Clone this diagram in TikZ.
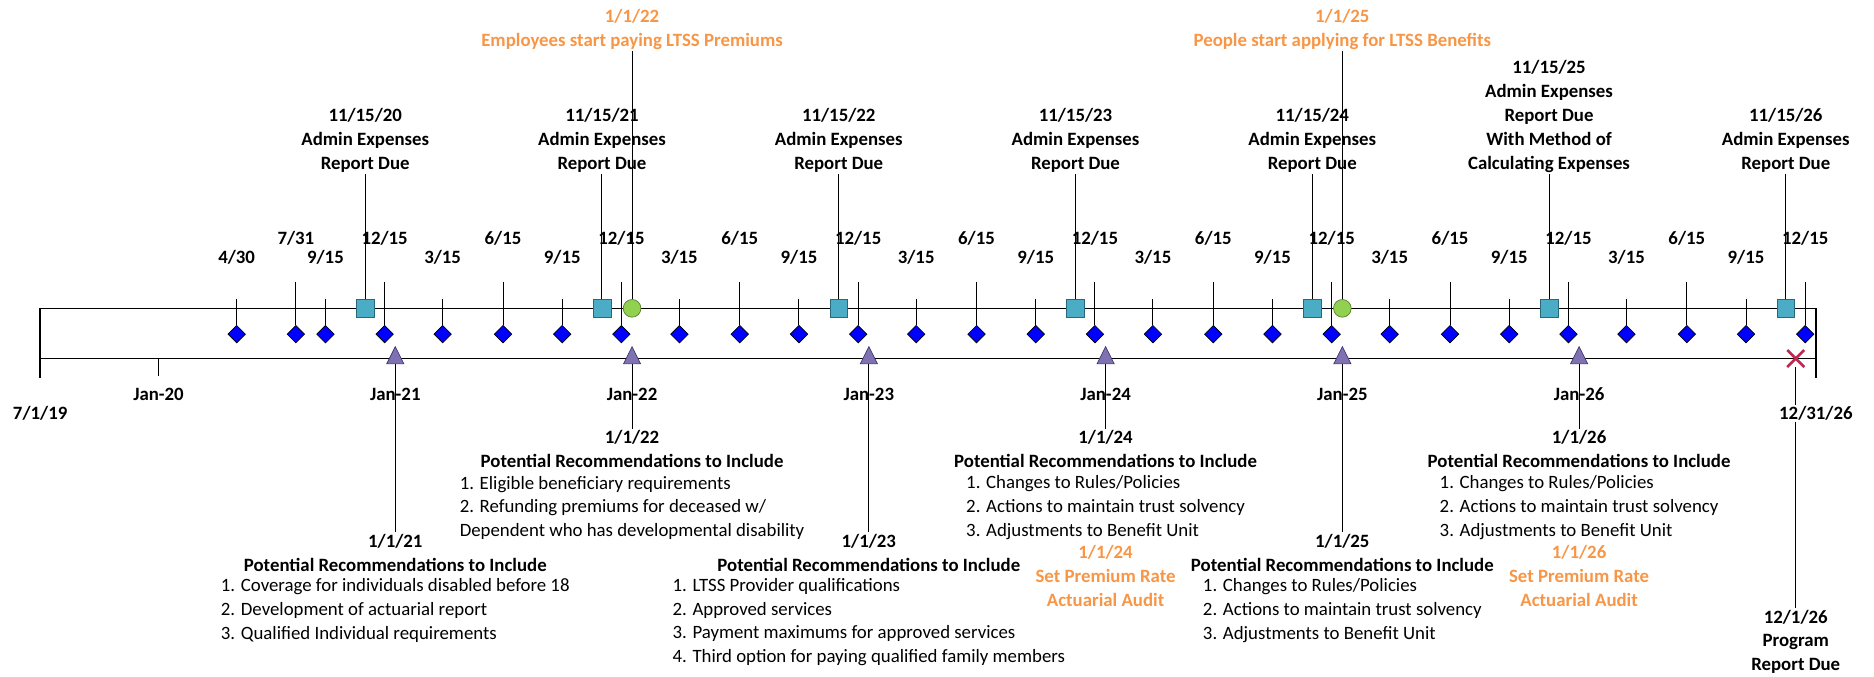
\documentclass[tikz,border=0pt]{standalone}
\usepackage{fontspec}
\setmainfont{Carlito}
\usetikzlibrary{shapes.geometric,shapes.misc,positioning}

\definecolor{sqfill}{RGB}{75,172,198}
\definecolor{sqline}{RGB}{40,105,125}
\definecolor{evfill}{RGB}{146,208,80}
\definecolor{evline}{RGB}{85,125,45}
\definecolor{trifill}{RGB}{128,114,178}
\definecolor{triline}{RGB}{62,52,110}
\definecolor{xred}{RGB}{190,40,85}
\definecolor{notecol}{RGB}{247,150,70}

\newcommand{\tlsize}{\fontsize{11.2}{14.2}\selectfont}

\tikzset{
	qtr/.style={diamond, draw=black, fill=blue, minimum width=0.37cm, minimum height=0.37cm, inner sep=0pt},
	rpt/.style={rectangle, draw=sqline, fill=sqfill, minimum size=0.37cm, inner sep=0pt},
	evt/.style={circle, draw=evline, fill=evfill, minimum size=0.37cm, inner sep=0pt},
	rec/.style={isosceles triangle, isosceles triangle stretches, shape border rotate=90, draw=triline, fill=trifill, minimum width=0.36cm, minimum height=0.36cm, inner sep=0pt},
	fin/.style={cross out, draw=xred, line width=1.6pt, minimum size=0.3cm, inner sep=0pt},
	lbl/.style={font=\tlsize\bfseries, inner sep=1pt},
	head/.style={font=\tlsize\bfseries, align=center, inner sep=1pt},
	adm/.style={head, anchor=south},
	items/.style={font=\tlsize, align=left, inner sep=1pt},
	note/.style={head, text=notecol},
	bar/.style={line width=0.8pt},
	conn/.style={line width=0.6pt},
}

\begin{document}
\begin{tikzpicture}[x=4.9525cm,y=1cm]
	\useasboundingbox (0.3304,0) rectangle (8.2456,14.15);
	\draw[bar] (0.5,7.7) -- (8,7.7);
	\draw[bar] (0.5,6.65) -- (8,6.65);
	\draw[bar] (0.5,7.7) -- (0.5,6.25);
	\draw[bar] (8,7.7) -- (8,6.25);
	\draw[bar] (1,6.65) -- (1,6.275);
	\node[lbl] (start) at (0.5,5.5) {7/1/19};
	\node[lbl] (j20) at (1,5.9) {Jan-20};

	\foreach \i/\x/\lab/\top/\ly in {a/1.33/{4/30}/7.9/8.775, b/1.58/{7/31}/8.25/9.175, c/1.705/{9/15}/7.9/8.775, d/1.955/{12/15}/8.25/9.175} {
		\coordinate (t1\i) at (\x,\top);
		\node[qtr] (q1\i) at (\x,7.16) {};
		\draw[conn] (t1\i) -- (q1\i);
		\node[lbl] (ql1\i) at (\x,\ly) {\lab};
	}
	\foreach \yr in {2,...,7} {
		\foreach \i/\f/\lab/\top/\ly in {a/0.2/{3/15}/7.9/8.775, b/0.455/{6/15}/8.25/9.175, c/0.705/{9/15}/7.9/8.775, d/0.955/{12/15}/8.25/9.175} {
			\coordinate (t\yr\i) at (\yr+\f,\top);
			\node[qtr] (q\yr\i) at (\yr+\f,7.16) {};
			\draw[conn] (t\yr\i) -- (q\yr\i);
			\node[lbl] (ql\yr\i) at (\yr+\f,\ly) {\lab};
		}
	}

	\foreach \yr in {20,...,24,26}
		\node[adm] (adm\yr) at (\yr-18.127,10.5) {11/15/\yr\\Admin Expenses\\Report Due};
	\node[adm] (adm25) at (6.873,10.5) {11/15/25\\Admin Expenses\\Report Due\\With Method of\\Calculating Expenses};
	\foreach \yr in {20,...,26} {
		\node[rpt] (rpt\yr) at (\yr-18.127,7.7) {};
		\draw[conn] (adm\yr) -- (rpt\yr);
	}

	\node[note] (ev22) at (3,13.5375) {1/1/22\\Employees start paying LTSS Premiums};
	\node[evt] (c22) at (3,7.7) {};
	\draw[conn] (ev22) -- (c22);
	\node[note] (ev25) at (6,13.5375) {1/1/25\\People start applying for LTSS Benefits};
	\node[evt] (c25) at (6,7.7) {};
	\draw[conn] (ev25) -- (c25);

	\foreach \yr in {21,...,26} {
		\node[rec] (r\yr) at (\yr-19,6.65) {};
		\node[lbl] (j\yr) at (\yr-19,5.9) {Jan-\yr};
	}
	\node[head] (h21) at (2,2.5875) {1/1/21\\Potential Recommendations to Include};
	\node[items] (l21) at (2,1.375) {1. Coverage for individuals disabled before 18\\2. Development of actuarial report\\3. Qualified Individual requirements};
	\node[head] (h22) at (3,4.75) {1/1/22\\Potential Recommendations to Include};
	\node[items] (l22) at (3,3.525) {1. Eligible beneficiary requirements\\2. Refunding premiums for deceased w/\\Dependent who has developmental disability};
	\node[head] (h23) at (4,2.5875) {1/1/23\\Potential Recommendations to Include};
	\node[items] (l23) at (4,1.1375) {1. LTSS Provider qualifications\\2. Approved services\\3. Payment maximums for approved services\\4. Third option for paying qualified family members};
	\node[head] (h24) at (5,4.75) {1/1/24\\Potential Recommendations to Include};
	\node[items] (l24) at (5,3.525) {1. Changes to Rules/Policies\\2. Actions to maintain trust solvency\\3. Adjustments to Benefit Unit};
	\node[note] (p24) at (5,2.1) {1/1/24\\Set Premium Rate\\Actuarial Audit};
	\node[head] (h25) at (6,2.5875) {1/1/25\\Potential Recommendations to Include};
	\node[items] (l25) at (6,1.375) {1. Changes to Rules/Policies\\2. Actions to maintain trust solvency\\3. Adjustments to Benefit Unit};
	\node[head] (h26) at (7,4.75) {1/1/26\\Potential Recommendations to Include};
	\node[items] (l26) at (7,3.525) {1. Changes to Rules/Policies\\2. Actions to maintain trust solvency\\3. Adjustments to Benefit Unit};
	\node[note] (p26) at (7,2.1) {1/1/26\\Set Premium Rate\\Actuarial Audit};
	\foreach \yr in {21,...,26}
		\draw[conn] (r\yr) -- (h\yr);

	\node[fin] (x26) at (7.915,6.65) {};
	\node[head] (pr26) at (7.915,0.725) {12/1/26\\Program\\Report Due};
	\draw[conn] (x26) -- (pr26);
	\node[lbl, fill=white] (end) at (8,5.5) {12/31/26};
\end{tikzpicture}
\end{document}
